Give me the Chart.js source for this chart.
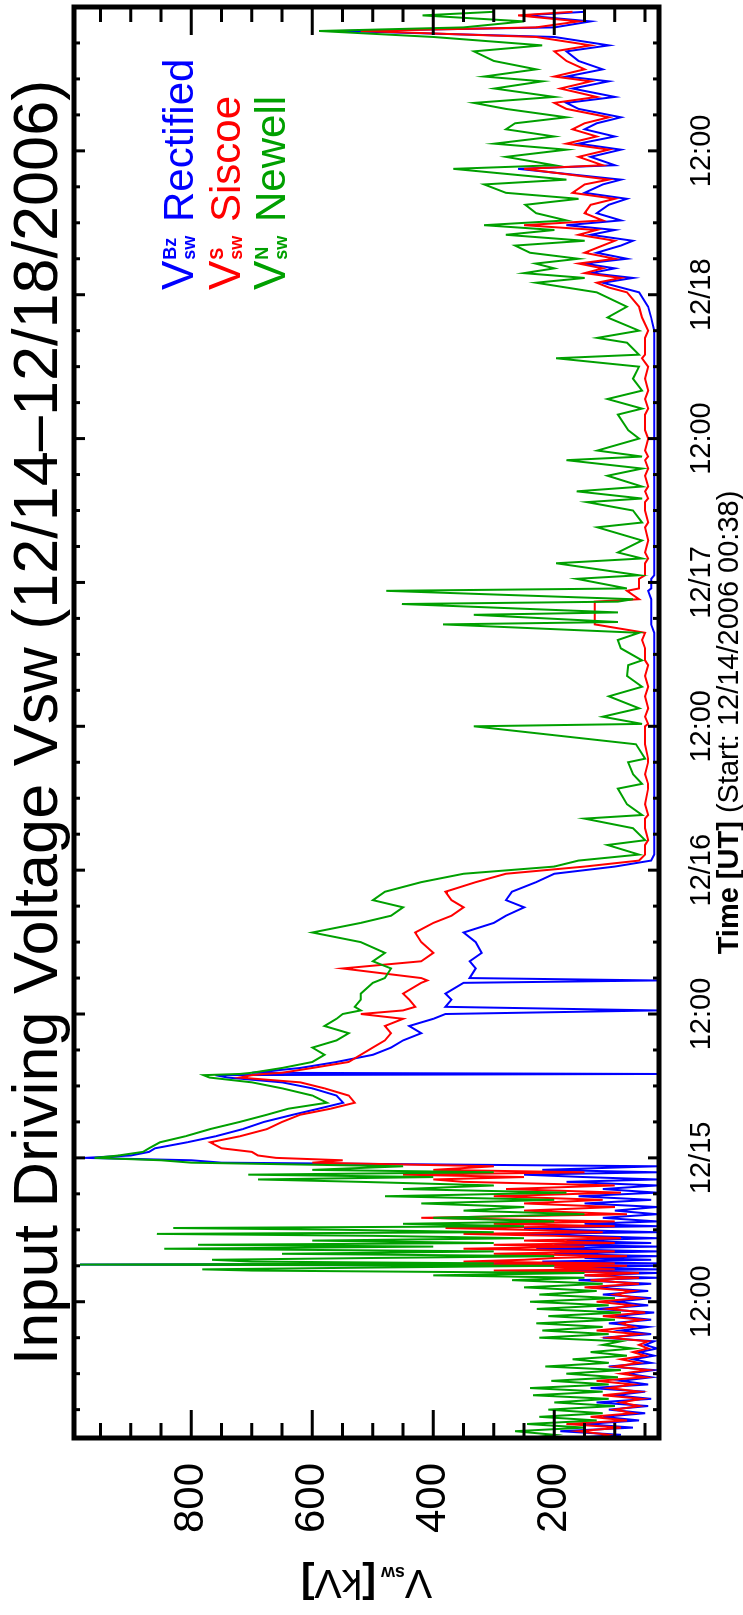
<!DOCTYPE html>
<html>
<head>
<meta charset="utf-8">
<script src="https://cdn.jsdelivr.net/npm/chart.js@4.4.1/dist/chart.umd.min.js"></script>
<style>
  html, body { margin: 0; padding: 0; background: #fff; overflow: hidden; width: 743px; height: 1615px; }
  #wrap { position: absolute; left: 0; top: 0; width: 1626px; height: 743px;
          transform-origin: 0 0; transform: translate(0px, 1615px) rotate(-90deg); }
</style>
</head>
<body>
<div id="wrap"><canvas id="vsw" width="1626" height="743"></canvas></div>
<script>
// hours since 12/14/2006 00:00 UT
var hours = [
  0.63, 0.9, 1.2, 1.5, 1.8, 2.1, 2.4, 2.7, 3.0, 3.3, 3.6, 3.9, 4.2, 4.5, 4.8, 5.1, 5.4, 5.7, 6.0, 6.3, 6.6, 6.9, 7.2, 7.5,
  7.8, 8.1, 8.4, 8.7, 9.0, 9.3, 9.6, 9.9, 10.2, 10.5, 10.8, 11.1, 11.4, 11.7, 12.0, 12.3, 12.6, 12.9, 13.2, 13.5, 13.8, 14.0,
  14.2, 14.4, 14.6, 14.7, 14.85, 15.0, 15.1, 15.2, 15.35, 15.5, 15.65, 15.8, 16.0, 16.2, 16.42, 16.6, 16.75, 16.9, 17.1, 17.3,
  17.5, 17.66, 17.8, 18.0, 18.15, 18.3, 18.5, 18.7, 19.0, 19.3, 19.6, 19.9, 20.2, 20.5, 20.8, 21.1, 21.4, 21.7, 22.0, 22.2,
  22.4, 22.6, 22.8, 23.0, 23.3, 23.6, 23.8,
  24.0, 24.2, 24.5, 24.8, 25.3, 25.8, 26.4, 27.0, 27.6, 28.1, 28.6, 29.2, 29.8, 30.3, 30.7, 30.9, 31.0, 31.1, 31.5, 32.0,
  32.6, 33.2, 33.8, 34.4, 35.0, 35.6, 36.0, 36.3, 36.6, 37.2, 37.7, 38.6, 38.8, 39.0, 39.8, 40.4, 41.1, 42.0, 42.8, 43.6,
  44.2, 44.9, 45.5, 46.2, 47.0, 47.7, 48.3, 48.8,
  49.3, 50.1, 50.5, 51.5, 52.3, 52.6, 53.5, 54.8, 55.2, 56.0, 57.0, 57.3, 58.5, 60.0, 60.2, 60.8, 61.5, 62.5, 63.3, 64.2,
  65.1, 65.5, 66.5, 67.2, 67.8, 68.5, 68.7, 69.3, 69.5, 70.2, 70.4, 70.6, 71.3, 71.5, 72.3, 72.6,
  73.6, 74.0, 74.5, 75.5, 76.6, 77.0, 78.0, 78.7, 79.0, 79.6, 80.0, 80.9, 81.5, 82.2, 82.5, 83.0, 84.0, 84.7, 86.0, 86.5,
  87.3, 88.0, 89.0, 90.0, 90.7, 91.0, 92.0, 92.4, 93.0, 94.1, 95.0, 96.2,
  96.6, 97.0, 97.4, 97.8, 98.2, 98.6, 99.0, 99.5, 100.1, 100.5, 101.0, 101.4, 101.8, 102.2, 102.8, 103.5, 104.0, 104.5, 105.2, 105.6,
  106.5, 106.8, 107.5, 108.1, 108.6, 109.2, 109.8, 110.3, 110.8, 111.5, 112.0, 112.5, 113.2, 113.8, 114.2, 114.8, 115.5, 116.3, 116.8, 117.5,
  118.0, 118.3, 118.8, 119.3, 119.6];
// V_sw^Bz (kV)
var rectified = [
  170, 90, 190, 70, 150, 60, 120, 50, 110, 45, 130, 40, 100, 50, 140, 45, 90, 40, 80, 35, 110, 40, 70, 35,
  60, 30, 50, 35, 120, 40, 90, 45, 110, 40, 100, 35, 130, 45, 100, 40, 120, 45, 140, 40, 160, 30,
  150, 30, 200, 30, 180, 30, 984, 30, 220, 40, 150, 30, 200, 30, 230, 30, 200, 40, 180, 30,
  150, 250, 30, 180, 250, 30, 150, 30, 120, 30, 100, 30, 150, 40, 160, 30, 120, 30, 180, 30,
  150, 250, 30, 220, 30, 750, 800,
  976, 900, 870, 860, 807, 760, 715, 680, 632, 590, 549, 560, 600, 650, 740, 760, 30, 700, 620, 560,
  500, 470, 450, 420, 440, 400, 380, 30, 380, 370, 380, 350, 30, 340, 330, 340, 320, 330, 350, 300,
  280, 250, 280, 270, 230, 200, 100, 40,
  35, 35, 35, 35, 35, 35, 35, 35, 35, 35, 35, 35, 35, 35, 35, 35, 35, 35, 35, 35,
  35, 35, 35, 35, 35, 40, 40, 40, 40, 40, 40, 40, 45, 40, 40, 35,
  35, 35, 35, 35, 35, 35, 35, 35, 35, 35, 35, 35, 35, 35, 35, 35, 35, 35, 35, 35,
  35, 35, 35, 35, 35, 35, 35, 35, 35, 40, 45, 60,
  90, 120, 70, 140, 100, 150, 80, 130, 90, 70, 140, 100, 180, 90, 130, 110, 80, 150, 120, 90,
  260, 100, 140, 90, 160, 100, 150, 130, 90, 160, 180, 100, 170, 110, 180, 120, 160, 180, 110, 200,
  555, 200, 140, 250, 150];
// V_sw^S (kV)
var siscoe = [
  130, 110, 160, 90, 180, 80, 140, 70, 100, 60, 90, 55, 120, 60, 110, 70, 130, 50, 90, 45, 100, 60, 90, 50,
  70, 45, 60, 45, 110, 60, 130, 70, 90, 55, 120, 50, 110, 70, 130, 60, 100, 70, 150, 60, 140, 60,
  150, 60, 300, 100, 200, 80, 400, 100, 350, 250, 200, 80, 300, 100, 350, 150, 300, 100, 250, 90,
  200, 350, 120, 250, 380, 100, 300, 100, 420, 80, 250, 100, 250, 120, 300, 90, 280, 100, 350, 400,
  250, 450, 150, 400, 300, 600, 550,
  660, 690, 700, 750, 769, 720, 675, 650, 620, 570, 530, 540, 580, 620, 720, 700, 680, 650, 600, 540,
  520, 500, 480, 470, 480, 450, 520, 450, 430, 440, 450, 420, 410, 420, 550, 420, 400, 420, 430, 400,
  370, 350, 370, 380, 330, 280, 150, 60,
  50, 50, 45, 50, 50, 45, 50, 45, 45, 50, 45, 45, 50, 50, 45, 50, 45, 50, 45, 50,
  45, 50, 50, 55, 50, 133, 133, 133, 133, 133, 133, 60, 80, 60, 60, 50,
  50, 45, 50, 45, 50, 45, 50, 50, 45, 50, 45, 50, 45, 50, 45, 50, 45, 50, 50, 45,
  50, 45, 50, 45, 55, 50, 50, 50, 45, 55, 60, 80,
  110, 130, 90, 150, 120, 160, 100, 150, 120, 100, 160, 130, 250, 120, 150, 140, 100, 170, 150, 110,
  250, 120, 160, 110, 180, 130, 170, 150, 110, 180, 200, 130, 190, 140, 200, 150, 180, 200, 140, 230,
  520, 230, 160, 260, 170];
// V_sw^N (kV)
var newell = [
  240, 200, 265, 150, 245, 130, 225, 120, 210, 100, 200, 110, 235, 120, 240, 110, 205, 95, 180, 90, 215, 110, 170, 80,
  140, 70, 120, 90, 225, 110, 220, 120, 230, 100, 210, 90, 229, 110, 240, 100, 225, 130, 250, 120, 270, 150,
  400, 150, 700, 782, 500, 200, 984, 300, 700, 766, 500, 200, 650, 300, 845, 400, 789, 300, 600, 250,
  500, 857, 300, 550, 830, 250, 450, 200, 400, 150, 350, 250, 420, 200, 480, 180, 450, 300, 520, 690,
  400, 706, 300, 600, 450, 800, 850,
  960, 920, 880, 870, 852, 810, 769, 720, 675, 640, 576, 600, 650, 700, 770, 780, 720, 700, 650, 600,
  580, 600, 560, 540, 580, 560, 550, 520, 530, 520, 520, 500, 490, 480, 470, 500, 480, 520, 600, 520,
  470, 450, 500, 480, 420, 350, 200, 160,
  60, 112, 50, 70, 150, 55, 80, 95, 55, 70, 78, 50, 65, 333, 55, 120, 60, 110, 55, 80,
  78, 55, 90, 95, 60, 384, 95, 333, 95, 452, 95, 70, 478, 80, 163, 60,
  197, 55, 95, 55, 129, 55, 70, 146, 55, 163, 55, 112, 55, 180, 55, 129, 60, 78, 95, 55,
  112, 55, 70, 60, 197, 60, 80, 129, 60, 112, 80, 130,
  180, 230, 150, 250, 200, 231, 160, 240, 265, 150, 280, 200, 316, 180, 230, 248, 160, 280, 316, 180,
  367, 200, 280, 180, 299, 200, 280, 265, 180, 280, 333, 200, 299, 220, 316, 230, 300, 333, 220, 400,
  589, 350, 250, 418, 300];

var startHour = 38 / 60;
var endHour = 120;
var yMin = 27;
var yMax = 994;

var FONT = "'Liberation Sans', Arial, sans-serif";
var BLUE = '#0000ff', RED = '#ff0000', GREEN = '#00a000';

function pts(vals) {
  return hours.map(function (h, i) { return { x: h, y: vals[i] }; });
}

function txt(ctx, s, x, y, size, bold, color) {
  ctx.font = (bold ? 'bold ' : '') + size + 'px ' + FONT;
  ctx.fillStyle = color;
  ctx.fillText(s, x, y);
  return ctx.measureText(s).width;
}

function width(ctx, s, size, bold) {
  ctx.font = (bold ? 'bold ' : '') + size + 'px ' + FONT;
  return ctx.measureText(s).width;
}

// inward ticks, frame, legend and axis titles
var decor = {
  id: 'decor',
  afterDatasetsDraw: function (chart) {
    var ctx = chart.ctx, a = chart.chartArea, xs = chart.scales.x, ys = chart.scales.y;
    ctx.save();
    ctx.strokeStyle = '#000';
    ctx.lineWidth = 3;
    ctx.beginPath();
    xs.ticks.forEach(function (t) {
      var p = xs.getPixelForValue(t.value);
      var len = t.value % 12 === 0 ? 11 : 6;
      ctx.moveTo(p, a.top); ctx.lineTo(p, a.top + len);
      ctx.moveTo(p, a.bottom); ctx.lineTo(p, a.bottom - len);
    });
    ys.ticks.forEach(function (t) {
      var p = ys.getPixelForValue(t.value);
      var len = t.value % 200 === 0 ? 28 : 15;
      ctx.moveTo(a.left, p); ctx.lineTo(a.left + len, p);
      ctx.moveTo(a.right, p); ctx.lineTo(a.right - len, p);
    });
    ctx.stroke();
    ctx.lineWidth = 5;
    ctx.strokeRect(a.left, a.top, a.right - a.left, a.bottom - a.top);

    // legend
    ctx.textAlign = 'left';
    ctx.textBaseline = 'alphabetic';
    var rows = [['Bz', 'Rectified', BLUE, 193], ['S', 'Siscoe', RED, 240], ['N', 'Newell', GREEN, 285]];
    rows.forEach(function (r) {
      var x0 = 1325;
      var w = txt(ctx, 'V', x0, r[3], 44, false, r[2]);
      txt(ctx, r[0], x0 + w + 1, r[3] - 17, 18, true, r[2]);
      txt(ctx, 'sw', x0 + w + 1, r[3] + 2, 18, true, r[2]);
      txt(ctx, r[1], 1393, r[3], 42, false, r[2]);
    });

    // y axis title, rotated
    ctx.save();
    ctx.translate(45, (a.top + a.bottom) / 2);
    ctx.rotate(-Math.PI / 2);
    var total = width(ctx, 'V', 41, false) + width(ctx, 'sw ', 18, true) + width(ctx, '[]', 41, true) + width(ctx, 'kV', 41, false);
    var x = -total / 2;
    x += txt(ctx, 'V', x, 0, 41, false, '#000');
    x += txt(ctx, 'sw ', x, 3, 18, true, '#000');
    x += txt(ctx, '[', x, 0, 41, true, '#000');
    x += txt(ctx, 'kV', x, 0, 41, false, '#000');
    txt(ctx, ']', x, 0, 41, true, '#000');
    ctx.restore();

    // x axis title
    var w1 = width(ctx, 'Time [UT] ', 29, true);
    var w2 = width(ctx, '(Start: 12/14/2006 00:38)', 29, false);
    var xt = (a.left + a.right) / 2 - (w1 + w2) / 2;
    xt += txt(ctx, 'Time [UT] ', xt, 738, 29, true, '#000');
    txt(ctx, '(Start: 12/14/2006 00:38)', xt, 738, 29, false, '#000');
    ctx.restore();
  }
};

new Chart(document.getElementById('vsw'), {
  type: 'line',
  data: {
    datasets: [
      { label: 'Rectified', data: pts(rectified), borderColor: BLUE, order: 3 },
      { label: 'Siscoe', data: pts(siscoe), borderColor: RED, order: 2 },
      { label: 'Newell', data: pts(newell), borderColor: GREEN, order: 1 }
    ]
  },
  plugins: [decor],
  options: {
    responsive: false,
    animation: false,
    devicePixelRatio: 1,
    layout: { padding: { left: 0, right: 5, top: 0, bottom: 0 } },
    elements: {
      line: { borderWidth: 2, tension: 0, fill: false },
      point: { radius: 0 }
    },
    plugins: {
      legend: { display: false },
      tooltip: { enabled: false },
      title: {
        display: true,
        fullSize: false,
        text: 'Input Driving Voltage Vsw (12/14\u201312/18/2006)',
        color: '#000',
        font: { family: FONT, size: 63, weight: 'normal', lineHeight: 1 },
        padding: { top: 8, bottom: 3 }
      }
    },
    scales: {
      x: {
        type: 'linear',
        min: startHour,
        max: endHour,
        grid: { display: false },
        border: { display: false },
        afterFit: function (s) { s.height = 84; },
        ticks: {
          stepSize: 3,
          includeBounds: false,
          autoSkip: false,
          maxRotation: 0,
          padding: 18,
          color: '#000',
          font: { family: FONT, size: 29 },
          callback: function (v) {
            if (v % 12 !== 0 || v >= endHour) return '';
            return v % 24 === 0 ? '12/' + (14 + v / 24) : '12:00';
          }
        }
      },
      y: {
        min: yMin,
        max: yMax,
        grid: { display: false },
        border: { display: false },
        afterFit: function (s) { s.width = 177; },
        ticks: {
          stepSize: 50,
          includeBounds: false,
          autoSkip: false,
          padding: 17,
          color: '#000',
          font: { family: FONT, size: 42 },
          callback: function (v) { return v % 200 === 0 ? v : ''; }
        }
      }
    }
  }
});
</script>
</body>
</html>
